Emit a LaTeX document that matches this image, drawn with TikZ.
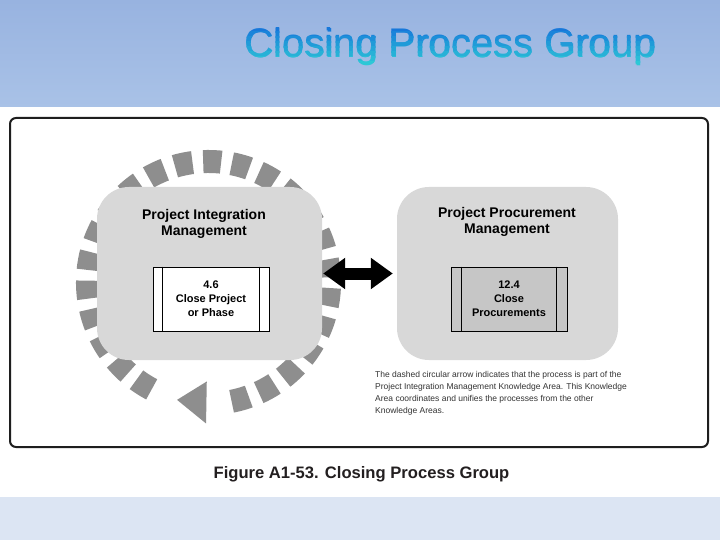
\documentclass[tikz,border=0pt]{standalone}
\usepackage{fontspec}
\setmainfont{Liberation Sans}
\usetikzlibrary{arrows.meta}
\definecolor{bandtop}{HTML}{98B3E0}
\definecolor{bandbot}{HTML}{A9C2E7}
\definecolor{footband}{HTML}{DCE5F3}
\definecolor{tblue}{HTML}{1778DA}
\definecolor{tcyan}{HTML}{30D4D6}
\definecolor{ringgray}{HTML}{8E8E8E}
\definecolor{boxgray}{HTML}{D8D8D8}
\definecolor{procgray}{HTML}{C6C6C6}
\definecolor{framecol}{HTML}{1E1E1E}
\definecolor{notegray}{HTML}{333333}
\definecolor{capcol}{HTML}{231F20}
\tikzset{
  titlestyle/.style={anchor=base, inner sep=0, font=\fontsize{40}{48}\selectfont},
  area/.style={fill=boxgray, rounded corners=32pt, minimum height=173pt, inner sep=0},
  areatitle/.style={align=center, inner sep=0, font=\bfseries\fontsize{14}{16}\selectfont, text=black},
  proc/.style={draw=black, line width=0.8pt, minimum width=116pt, minimum height=64pt, inner sep=0, align=center, font=\bfseries\fontsize{11}{14}\selectfont},
  ring/.style={draw=ringgray, line width=23pt, dash pattern=on 18pt off 10.7pt},
  link/.style={line width=12pt, black, {Triangle[width=30pt,length=22pt]}-{Triangle[width=30pt,length=22pt]}, shorten <=1pt, shorten >=4pt}
}
\begin{document}
\begin{tikzpicture}[x=1pt,y=-1pt]
\useasboundingbox (0,0) rectangle (720,540);
% bands
\shade[top color=bandtop, bottom color=bandbot] (0,0) rectangle (720,107);
\fill[white] (0,107) rectangle (720,497);
\fill[footband] (0,497) rectangle (720,540);
% title with vertical gradient (strips)
\foreach \i in {0,...,8} {
  \pgfmathsetmacro\p{100*\i/8}
  \pgfmathsetmacro\ya{\i==0 ? 0 : 27+5*\i}
  \pgfmathsetmacro\yb{\i==8 ? 107 : 33+5*\i}
  \begin{scope}
    \clip (150,\ya) rectangle (720,\yb);
    \node[titlestyle, text=tcyan!\p!tblue] (title\i) at (450,57) {Closing Process Group};
    \node[titlestyle, text=tcyan!\p!tblue] (titleb\i) at (450.7,57.3) {Closing Process Group};
  \end{scope}
}
% frame
\node[draw=framecol, line width=2pt, rounded corners=6pt, minimum width=698pt, minimum height=329pt, inner sep=0] (frame) at (359,282.5) {};
% dashed circular arrow
\coordinate (ringc) at (208.5,282.5);
\draw[ring] ([shift={(118:121)}]ringc) arc[start angle=118, end angle=439, radius=121];
\fill[ringgray] ([shift={(91:99)}]ringc) -- ([shift={(91:141)}]ringc) -- ([shift={(105:121.5)}]ringc) -- cycle;
% knowledge areas
\node[area, minimum width=225pt] (lbox) at (209.5,273.5) {};
\node[area, minimum width=221pt] (rbox) at (507.5,273.5) {};
\node[areatitle] (ltitle) at (204,224) {Project Integration\\Management};
\node[areatitle] (rtitle) at (507,222) {Project Procurement\\Management};
% processes
\node[proc, fill=white] (p46) at (211,299) {4.6\\Close Project\\or Phase};
\draw[line width=0.8pt] ([xshift=10pt]p46.north west) -- ([xshift=10pt]p46.south west);
\draw[line width=0.8pt] ([xshift=-10pt]p46.north east) -- ([xshift=-10pt]p46.south east);
\node[proc, fill=procgray] (p124) at (509,299) {12.4\\Close\\Procurements};
\draw[line width=0.8pt] ([xshift=11pt]p124.north west) -- ([xshift=11pt]p124.south west);
\draw[line width=0.8pt] ([xshift=-11pt]p124.north east) -- ([xshift=-11pt]p124.south east);
% double arrow
\draw[link] (lbox.east) -- (rbox.west);
% note
\node[anchor=north west, align=left, inner sep=0, text=notegray, font=\fontsize{8.5}{12}\selectfont] (note) at (375,371)
 {The dashed circular arrow indicates that the process is part of the\\
  Project Integration Management Knowledge Area. This Knowledge\\
  Area coordinates and unifies the processes from the other\\
  Knowledge Areas.};
% caption
\node[inner sep=0, text=capcol, font=\bfseries\fontsize{16.6}{20}\selectfont] (cap) at (361.5,474) {Figure A1-53. Closing Process Group};
\end{tikzpicture}
\end{document}
